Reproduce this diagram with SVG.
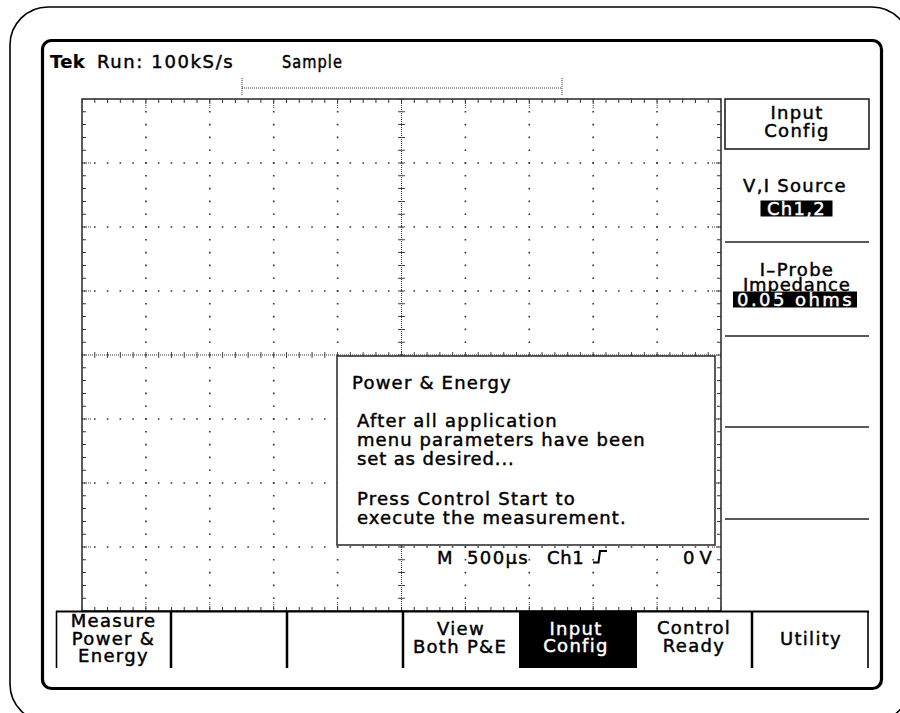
<svg xmlns="http://www.w3.org/2000/svg" width="900" height="713" viewBox="0 0 900 713">
  <style>
    .t { font-family: "DejaVu Sans", "Verdana", sans-serif; font-size: 18px; fill: #000; stroke: #000; stroke-width: 0.45px; letter-spacing: 1.3px; }
    .c { text-anchor: middle; }
    .w { fill: #fff; stroke: #fff; }
    .b { font-weight: bold; letter-spacing: 0.3px; stroke-width: 0.2px; }
    .frame { fill: none; stroke: #000; }
    .grid { fill: none; stroke: #333; }
    .sep { stroke: #222; stroke-width: 1.6; fill: none; }
    .div { stroke: #000; stroke-width: 2.5; }
  </style>
  <defs>
    <clipPath id="menuClip">
      <rect x="40" y="600" width="840" height="68"/>
    </clipPath>
  </defs>
  <rect width="900" height="713" fill="#fff"/>

  <g id="outer-frame">
    <rect x="10" y="7" width="900" height="715" rx="38" class="frame" stroke-width="1.6"/>
  </g>

  <g id="screen">
    <rect x="42.5" y="40.5" width="839" height="648" rx="9" class="frame" stroke-width="3.2"/>
  </g>

  <g id="status-bar">
    <text x="50" y="68" class="t b">Tek</text>
    <text x="97" y="68" class="t" textLength="137" lengthAdjust="spacing">Run: 100kS/s</text>
    <text x="282" y="68" class="t" textLength="61" lengthAdjust="spacingAndGlyphs">Sample</text>
    <line x1="242" y1="88" x2="562" y2="88" stroke="#333" stroke-width="1" stroke-dasharray="1 1"/>
    <line x1="242" y1="78" x2="242" y2="95" stroke="#333" stroke-width="1" stroke-dasharray="1 1"/>
    <line x1="562" y1="78" x2="562" y2="95" stroke="#333" stroke-width="1" stroke-dasharray="1 1"/>
  </g>

  <g id="graticule">
    <g class="grid" stroke-width="1.6" stroke-dasharray="1.6 11.2" stroke-dashoffset="0.8">
      <line x1="145.9" y1="99" x2="145.9" y2="611"/>
      <line x1="209.8" y1="99" x2="209.8" y2="611"/>
      <line x1="273.7" y1="99" x2="273.7" y2="611"/>
      <line x1="337.6" y1="99" x2="337.6" y2="611"/>
      <line x1="465.4" y1="99" x2="465.4" y2="611"/>
      <line x1="529.3" y1="99" x2="529.3" y2="611"/>
      <line x1="593.2" y1="99" x2="593.2" y2="611"/>
      <line x1="657.1" y1="99" x2="657.1" y2="611"/>
    </g>
    <g class="grid" stroke-width="1.6" stroke-dasharray="1.6 11.18" stroke-dashoffset="0.8">
      <line x1="82" y1="163" x2="721" y2="163"/>
      <line x1="82" y1="227" x2="721" y2="227"/>
      <line x1="82" y1="291" x2="721" y2="291"/>
      <line x1="82" y1="419" x2="721" y2="419"/>
      <line x1="82" y1="483" x2="721" y2="483"/>
      <line x1="82" y1="547" x2="721" y2="547"/>
    </g>
    <g class="grid" stroke-width="1" stroke-dasharray="1 1">
      <line x1="401.5" y1="99" x2="401.5" y2="611"/>
      <line x1="82" y1="355" x2="721" y2="355"/>
    </g>
    <line x1="401.5" y1="99" x2="401.5" y2="611" stroke="#444" stroke-width="7" stroke-dasharray="1 11.8" stroke-dashoffset="0.5"/>
    <line x1="82" y1="355" x2="721" y2="355" stroke="#444" stroke-width="6" stroke-dasharray="1 11.78" stroke-dashoffset="0.5"/>
    <g stroke="#333" stroke-dashoffset="0.5">
      <line x1="82" y1="101" x2="721" y2="101" stroke-width="4" stroke-dasharray="1 11.78"/>
      <line x1="82" y1="609" x2="721" y2="609" stroke-width="4" stroke-dasharray="1 11.78"/>
      <line x1="84" y1="99" x2="84" y2="611" stroke-width="4" stroke-dasharray="1 11.8"/>
      <line x1="719" y1="99" x2="719" y2="611" stroke-width="4" stroke-dasharray="1 11.8"/>
    </g>
    <g stroke="#333" stroke-width="1" stroke-dasharray="1 1">
      <path d="M145.9 99v9M209.8 99v9M273.7 99v9M337.6 99v9M465.4 99v9M529.3 99v9M593.2 99v9M657.1 99v9"/>
      <path d="M145.9 611v-9M209.8 611v-9M273.7 611v-9M337.6 611v-9M465.4 611v-9M529.3 611v-9M593.2 611v-9M657.1 611v-9"/>
      <path d="M82 163h9M82 227h9M82 291h9M82 419h9M82 483h9M82 547h9"/>
      <path d="M721 163h-9M721 227h-9M721 291h-9M721 419h-9M721 483h-9M721 547h-9"/>
    </g>
    <rect x="82" y="99" width="639" height="512" class="grid" stroke-width="1.6"/>
  </g>

  <g id="dialog">
    <rect x="337" y="356" width="378" height="189" fill="#fff" stroke="#333" stroke-width="1.6"/>
    <text x="352" y="389" class="t" textLength="160" lengthAdjust="spacing">Power &amp; Energy</text>
    <text x="357" y="427" class="t" textLength="201" lengthAdjust="spacing">After all application</text>
    <text x="357" y="446" class="t" textLength="289" lengthAdjust="spacing">menu parameters have been</text>
    <text x="357" y="465" class="t" textLength="158" lengthAdjust="spacing">set as desired...</text>
    <text x="357" y="505" class="t" textLength="219" lengthAdjust="spacing">Press Control Start to</text>
    <text x="357" y="524" class="t" textLength="270" lengthAdjust="spacing">execute the measurement.</text>
  </g>

  <g id="readout">
    <text x="437" y="564" class="t">M</text>
    <text x="467" y="564" class="t" textLength="62" lengthAdjust="spacing">500µs</text>
    <text x="547" y="564" class="t" textLength="38" lengthAdjust="spacing">Ch1</text>
    <path d="M593 562.5H598.5L600 551H607" fill="none" stroke="#000" stroke-width="2"/>
    <text x="683" y="564" class="t" textLength="30" lengthAdjust="spacing">0 V</text>
  </g>

  <g id="side-menu">
    <g id="side-input-config">
      <rect x="725" y="99" width="144" height="50" class="sep"/>
      <text x="797" y="119" class="t c">Input</text>
      <text x="797" y="137" class="t c">Config</text>
    </g>
    <g id="side-vi-source">
      <text x="795" y="192" class="t c">V,I Source</text>
      <rect x="760.5" y="200.5" width="72" height="16" fill="#000"/>
      <text x="796.5" y="214.5" class="t c w">Ch1,2</text>
      <line x1="725" y1="242" x2="869" y2="242" class="sep"/>
    </g>
    <g id="side-iprobe">
      <text x="797" y="276" class="t c">I–Probe</text>
      <text x="797" y="291" class="t c" textLength="108" lengthAdjust="spacing">Impedance</text>
      <rect x="733" y="291.5" width="124" height="16" fill="#000"/>
      <text x="795" y="305.5" class="t c w" textLength="116" lengthAdjust="spacing">0.05 ohms</text>
      <line x1="725" y1="336" x2="869" y2="336" class="sep"/>
    </g>
    <g id="side-blank-1">
      <line x1="725" y1="427" x2="869" y2="427" class="sep"/>
    </g>
    <g id="side-blank-2">
      <line x1="725" y1="519" x2="869" y2="519" class="sep"/>
    </g>
  </g>

  <g id="bottom-menu" clip-path="url(#menuClip)">
    <line x1="56" y1="611.5" x2="869" y2="611.5" stroke="#000" stroke-width="2"/>
    <g id="btn-measure">
      <line x1="56.5" y1="611" x2="56.5" y2="668" stroke="#000" stroke-width="1.6"/>
      <text x="113.5" y="627" class="t c">Measure</text>
      <text x="113.5" y="645" class="t c">Power &amp;</text>
      <text x="113.5" y="662" class="t c">Energy</text>
    </g>
    <g id="btn-blank-1">
      <line x1="171" y1="611" x2="171" y2="668" class="div"/>
    </g>
    <g id="btn-blank-2">
      <line x1="287" y1="611" x2="287" y2="668" class="div"/>
    </g>
    <g id="btn-view">
      <line x1="403" y1="611" x2="403" y2="668" class="div"/>
      <text x="461" y="635" class="t c">View</text>
      <text x="460" y="653" class="t c">Both P&amp;E</text>
    </g>
    <g id="btn-input-config">
      <rect x="519" y="611" width="118" height="57" fill="#000"/>
      <text x="576" y="635" class="t c w">Input</text>
      <text x="576" y="652" class="t c w">Config</text>
    </g>
    <g id="btn-control">
      <text x="694" y="634" class="t c">Control</text>
      <text x="694" y="652" class="t c">Ready</text>
    </g>
    <g id="btn-utility">
      <line x1="752" y1="611" x2="752" y2="668" class="div"/>
      <text x="811" y="645" class="t c">Utility</text>
      <line x1="868" y1="611" x2="868" y2="668" stroke="#000" stroke-width="1.6"/>
    </g>
  </g>

  <g id="connectors"/>
</svg>
